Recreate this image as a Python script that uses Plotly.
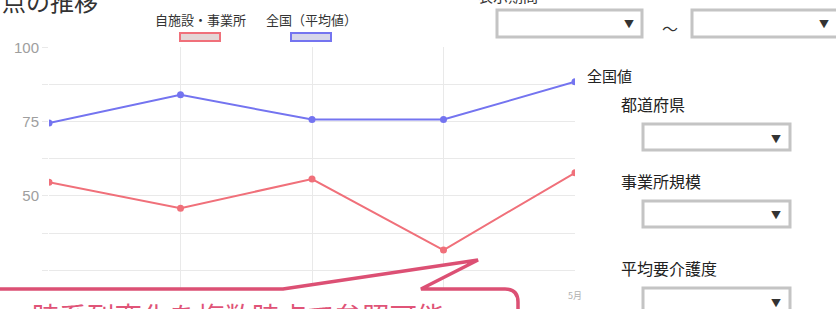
import plotly.graph_objects as go

W, H = 836, 309

months = ["1月", "2月", "3月", "4月", "5月"]
month_labels_visible = ["", "", "", "", "5月"]  # others are hidden behind the callout
own_values = [54.6, 45.9, 55.7, 31.8, 57.8]
national_values = [74.5, 84.0, 75.7, 75.7, 88.4]
y_tickvals = [50, 75, 100]
y_ticktext = ["50", "75", "100"]
y_minor_vals = [25, 37.5, 62.5, 87.5]

legend_labels = ["自施設・事業所", "全国（平均値）"]
title_text = "点の推移"
period_label = "表示期間"
side_labels = ["都道府県", "事業所規模", "平均要介護度"]
national_label = "全国値"
callout_text = "時系列変化を複数時点で参照可能"

RED = "#f0707a"
BLUE = "#7474f0"
CALLOUT = "#dc5074"


def px(x):
    return x / W


def py(y):
    return 1 - y / H


def pt(x, y):
    return f"{px(x):.5f},{py(y):.5f}"


def label(text, x, y, size, color, xanchor="center", yanchor="middle", family=None):
    f = dict(size=size, color=color)
    if family:
        f["family"] = family
    return dict(text=text, x=px(x), y=py(y), xref="paper", yref="paper",
                xanchor=xanchor, yanchor=yanchor, showarrow=False, font=f)


fig = go.Figure()
fig.add_trace(go.Scatter(
    x=months, y=own_values, mode="lines+markers", name=legend_labels[0],
    line=dict(color=RED, width=2), marker=dict(size=7, color=RED),
))
fig.add_trace(go.Scatter(
    x=months, y=national_values, mode="lines+markers", name=legend_labels[1],
    line=dict(color=BLUE, width=2), marker=dict(size=7, color=BLUE),
))

shapes = []
annotations = []

# legend boxes
for (x0, col, fill) in [(180, RED, "#e4d6d6"), (291, BLUE, "#d6d6ea")]:
    shapes.append(dict(type="rect", xref="paper", yref="paper",
                       x0=px(x0), x1=px(x0 + 40), y0=py(41), y1=py(33),
                       line=dict(color=col, width=2), fillcolor=fill))
annotations.append(label(legend_labels[0], 200, 19, 13, "#333"))
annotations.append(label(legend_labels[1], 311, 19, 13, "#333"))

# title and period label (cut at top)
annotations.append(label(title_text, 0, 1, 24, "#333", xanchor="left"))
annotations.append(label(period_label, 476, -4, 15, "#333", xanchor="left"))


def dropdown(x0, y0, x1, y1, arrow_x, arrow_y):
    shapes.append(dict(type="rect", xref="paper", yref="paper",
                       x0=px(x0), x1=px(x1), y0=py(y1), y1=py(y0),
                       line=dict(color="#c4c4c4", width=3), fillcolor="white"))
    annotations.append(label("▼", arrow_x, arrow_y, 10, "#333"))


dropdown(497, 10, 642, 37, 629, 24)
dropdown(692, 10, 850, 37, 824, 24)
annotations.append(label("～", 670, 28, 16, "#333"))

annotations.append(label(national_label, 585, 75, 15, "#222", xanchor="left"))
for lbl, ly, dy in zip(side_labels, [104, 181, 268], [124, 201, 288]):
    annotations.append(label(lbl, 619, ly, 16, "#222", xanchor="left"))
    dropdown(643, dy, 790, dy + 26, 776, dy + 14)

# callout box
path = ("M " + pt(-10, 289) + " L " + pt(283, 289) + " L " + pt(478, 260) +
        " L " + pt(421, 289) + " L " + pt(505, 289) + " Q " + pt(518, 289) + " " + pt(518, 302) +
        " L " + pt(518, 340) + " L " + pt(-10, 340) + " Z")
shapes.append(dict(type="path", xref="paper", yref="paper", path=path,
                   line=dict(color=CALLOUT, width=3.5), fillcolor="white", layer="above"))
annotations.append(label(callout_text, 30, 315, 27.5, "#e05478", xanchor="left"))

GRID = "#e9e9e9"
fig.update_layout(
    width=W, height=H,
    margin=dict(l=0, r=0, t=0, b=0, autoexpand=False),
    paper_bgcolor="white", plot_bgcolor="white",
    showlegend=False,
    font=dict(family="Noto Sans CJK JP, sans-serif"),
    xaxis=dict(domain=[px(49), px(575)], type="category", range=[0, 4],
               tickmode="array", tickvals=months, ticktext=month_labels_visible,
               showgrid=True, gridcolor=GRID, gridwidth=1, zeroline=False,
               showline=False, ticks="", tickfont=dict(size=9, color="#b0b0b0"),
               automargin=False, fixedrange=True),
    yaxis=dict(domain=[py(289), py(47.3)], range=[18.7, 100],
               tickmode="array", tickvals=y_tickvals, ticktext=y_ticktext,
               showgrid=True, gridcolor=GRID, zeroline=False, showline=False,
               ticks="outside", ticklen=6, tickcolor=GRID,
               tickfont=dict(size=15, color="#9e9e9e", family="Liberation Sans, Arial"),
               minor=dict(tickmode="array", tickvals=y_minor_vals, showgrid=True,
                          gridcolor=GRID, ticks="outside", ticklen=6, tickcolor=GRID),
               automargin=False, fixedrange=True),
    shapes=shapes,
    annotations=annotations,
)

fig.write_html("out.html", config={"displayModeBar": False},
               post_script="document.body.style.margin='0';")
